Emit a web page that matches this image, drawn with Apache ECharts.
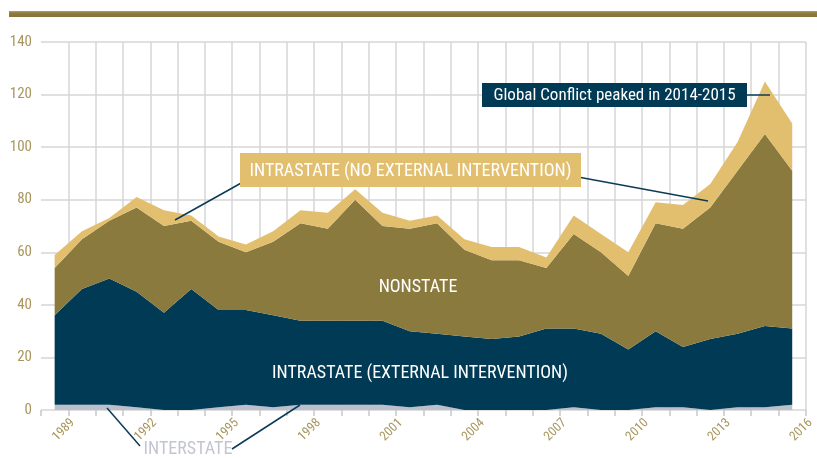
<!DOCTYPE html>
<html>
<head>
<meta charset="utf-8">
<script src="https://cdn.jsdelivr.net/npm/echarts/dist/echarts.min.js"></script>
<style>
html,body{margin:0;padding:0;background:#fff;}
#chart{width:817px;height:458px;}
</style>
</head>
<body>
<div id="chart"></div>
<script>
const years = ['1989','1990','1991','1992','1993','1994','1995','1996','1997','1998','1999','2000','2001','2002','2003','2004','2005','2006','2007','2008','2009','2010','2011','2012','2013','2014','2015','2016'];
const interstate = [2,2,2,1,0,0,1,2,1,2,2,2,2,1,2,0,0,0,0,1,0,0,1,1,0,1,1,2];
const intrastateExternal = [34,44,48,44,37,46,37,36,35,32,32,32,32,29,27,28,27,28,31,30,29,23,29,23,27,28,31,29];
const nonstate = [18,19,22,32,33,26,26,22,28,37,35,46,36,39,42,33,30,29,23,36,31,28,41,45,50,62,73,60];
const intrastateNoExternal = [5,3,1,4,6,2,2,3,4,5,6,4,5,3,3,4,5,5,4,7,7,9,8,9,9,11,20,18];
const yTicks = [0,20,40,60,80,100,120,140];

const FONT = "'Roboto Condensed','Liberation Sans Narrow',sans-serif";
const GOLD = '#a8965e';
const NAVY = '#003a54';
const OLIVE = '#8b7a3e';
const TAN = '#e2bf6e';
const GREY = '#bcbfcc';

const chart = echarts.init(document.getElementById('chart'), null, {renderer:'canvas'});

function areaSeries(name, data, color){
  return {
    name: name, type:'line', stack:'total', data:data,
    symbol:'none', smooth:false,
    lineStyle:{width:0, color:color},
    areaStyle:{color:color, opacity:1},
    itemStyle:{color:color},
    emphasis:{disabled:true},
    silent:true
  };
}

const lineColor = '#0b3b56';
function leader(x1,y1,x2,y2){
  return {type:'line', z:100, shape:{x1:x1,y1:y1,x2:x2,y2:y2}, style:{stroke:lineColor, lineWidth:1.5}};
}

chart.setOption({
  animation:false,
  backgroundColor:'#ffffff',
  grid:{left:41, right:6, top:42, bottom:48, containLabel:false},
  xAxis:{
    type:'category', data:years, boundaryGap:true,
    axisLine:{show:false},
    axisTick:{show:true, interval:0, length:6, lineStyle:{color:'#c8c8c8', width:1.5}},
    axisLabel:{
      interval:2, rotate:45, align:'left', verticalAlign:'middle',
      margin:29,
      color:GOLD, fontFamily:FONT, fontSize:13
    },
    splitLine:{show:true, interval:0, showMinLine:false, lineStyle:{color:'#d6d6d6', width:1.5}}
  },
  yAxis:{
    type:'value', min:yTicks[0], max:yTicks[yTicks.length-1], interval:20,
    axisLine:{show:false}, axisTick:{show:false},
    axisLabel:{color:GOLD, fontFamily:FONT, fontSize:15, margin:9},
    splitLine:{show:true, lineStyle:{color:'#d6d6d6', width:1.5}}
  },
  series:[
    areaSeries('INTERSTATE', interstate, GREY),
    areaSeries('INTRASTATE (EXTERNAL INTERVENTION)', intrastateExternal, NAVY),
    areaSeries('NONSTATE', nonstate, OLIVE),
    areaSeries('INTRASTATE (NO EXTERNAL INTERVENTION)', intrastateNoExternal, TAN)
  ],
  graphic:[
    {type:'rect', z:100, shape:{x:9, y:11, width:808, height:6},
     style:{fill:new echarts.graphic.LinearGradient(0,0,0,1,[{offset:0,color:'#b3a062'},{offset:0.35,color:'#8e7b3d'},{offset:1,color:'#85733a'}])}},
    leader(243,182,175,220),
    leader(578,177,708,201),
    {type:'rect', z:101, shape:{x:240, y:153, width:341, height:34}, style:{fill:TAN}},
    {type:'text', z:102, style:{text:'INTRASTATE (NO EXTERNAL INTERVENTION)', x:410.5, y:171, align:'center', verticalAlign:'middle', fill:'#ffffff', font:'18px ' + FONT}},
    leader(746,95,770,95),
    {type:'rect', z:101, shape:{x:482, y:83, width:265, height:24}, style:{fill:NAVY}},
    {type:'text', z:102, style:{text:'Global Conflict peaked in 2014-2015', x:614.5, y:95.5, align:'center', verticalAlign:'middle', fill:'#ffffff', font:'17px ' + FONT}},
    {type:'text', z:102, style:{text:'NONSTATE', x:418, y:287, align:'center', verticalAlign:'middle', fill:'#ffffff', font:'18px ' + FONT}},
    {type:'text', z:102, style:{text:'INTRASTATE (EXTERNAL INTERVENTION)', x:420, y:373, align:'center', verticalAlign:'middle', fill:'#ffffff', font:'18px ' + FONT}},
    leader(140,446,107,408),
    leader(232,449,300,405),
    {type:'text', z:102, style:{text:'INTERSTATE', x:188, y:449, align:'center', verticalAlign:'middle', fill:'#c3c6d2', font:'18px ' + FONT}}
  ]
});
</script>
</body>
</html>
